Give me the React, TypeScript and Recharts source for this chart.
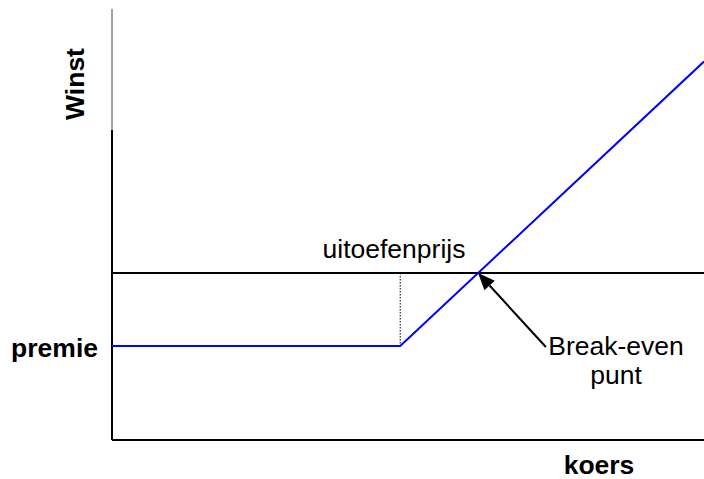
import { LineChart, Line, XAxis, YAxis, ReferenceLine } from 'recharts';

// koers (x) vs winst (y) for a long call option
const koers = [63, 100, 139];
const winst = [-10, -10, 29];
const uitoefenprijs = 100;
const premie = -10;
const breakEven = { x: 110, y: 0 };
const pijlStart = { x: 118.7, y: -10.15 };
const xDomain = [63, 139];
const yDomain = [-22.9, 36.2];
const asSplit = 19.6; // where the y-axis turns from thin grey to black

const data = koers.map((k, i) => ({ koers: k, winst: winst[i] }));

const FONT = 'Liberation Sans, Arial, Helvetica, sans-serif';

// line with a filled arrow head at (x2, y2)
const Arrow = (props: any) => {
    const { x1, y1, x2, y2 } = props;
    const ang = Math.atan2(y2 - y1, x2 - x1);
    const len = 17;
    const half = 7;
    const bx = x2 - len * Math.cos(ang);
    const by = y2 - len * Math.sin(ang);
    const px = -Math.sin(ang) * half;
    const py = Math.cos(ang) * half;
    return (
        <g>
            <line x1={x1} y1={y1} x2={bx} y2={by} stroke="#000" strokeWidth={2} />
            <polygon points={`${x2},${y2} ${bx + px},${by + py} ${bx - px},${by - py}`} fill="#000" />
        </g>
    );
};

export default function App() {
    return (
        <div style={{ position: 'absolute', left: 0, top: 0, background: '#fff' }}>
            <LineChart width={704} height={479} data={data} margin={{ top: 9, right: 0, bottom: 39, left: 112 }}>
                <XAxis type="number" dataKey="koers" domain={xDomain} hide allowDataOverflow />
                <YAxis type="number" domain={yDomain} hide allowDataOverflow />

                {/* axes */}
                <ReferenceLine segment={[{ x: xDomain[0], y: asSplit }, { x: xDomain[0], y: yDomain[1] }]} stroke="#444" strokeWidth={1} />
                <ReferenceLine segment={[{ x: xDomain[0], y: yDomain[0] }, { x: xDomain[0], y: asSplit }]} stroke="#000" strokeWidth={2} />
                <ReferenceLine y={yDomain[0]} stroke="#000" strokeWidth={2} />

                {/* nul-lijn */}
                <ReferenceLine y={0} stroke="#000" strokeWidth={2} />

                {/* stippellijn bij uitoefenprijs */}
                <ReferenceLine segment={[{ x: uitoefenprijs, y: 0 }, { x: uitoefenprijs, y: premie }]} stroke="#000" strokeWidth={1} strokeDasharray="1.5 1.5" />

                <Line type="linear" dataKey="winst" stroke="#0000ff" strokeWidth={2} dot={false} isAnimationActive={false} />

                <ReferenceLine segment={[pijlStart, breakEven]} shape={Arrow} />

                <text x={84} y={84} transform="rotate(-90 84 84)" textAnchor="middle" fontFamily={FONT} fontWeight="bold" fontSize={26.5} fill="#000">Winst</text>
                <text x={98} y={357} textAnchor="end" fontFamily={FONT} fontWeight="bold" fontSize={26.5} fill="#000">premie</text>
                <text x={599} y={474} textAnchor="middle" fontFamily={FONT} fontWeight="bold" fontSize={26.5} fill="#000">koers</text>
                <text x={394} y={258} textAnchor="middle" fontFamily={FONT} fontSize={26.5} fill="#000">uitoefenprijs</text>
                <text x={616} y={355} textAnchor="middle" fontFamily={FONT} fontSize={26.5} fill="#000">Break-even</text>
                <text x={616} y={384} textAnchor="middle" fontFamily={FONT} fontSize={26.5} fill="#000">punt</text>
            </LineChart>
        </div>
    );
}
